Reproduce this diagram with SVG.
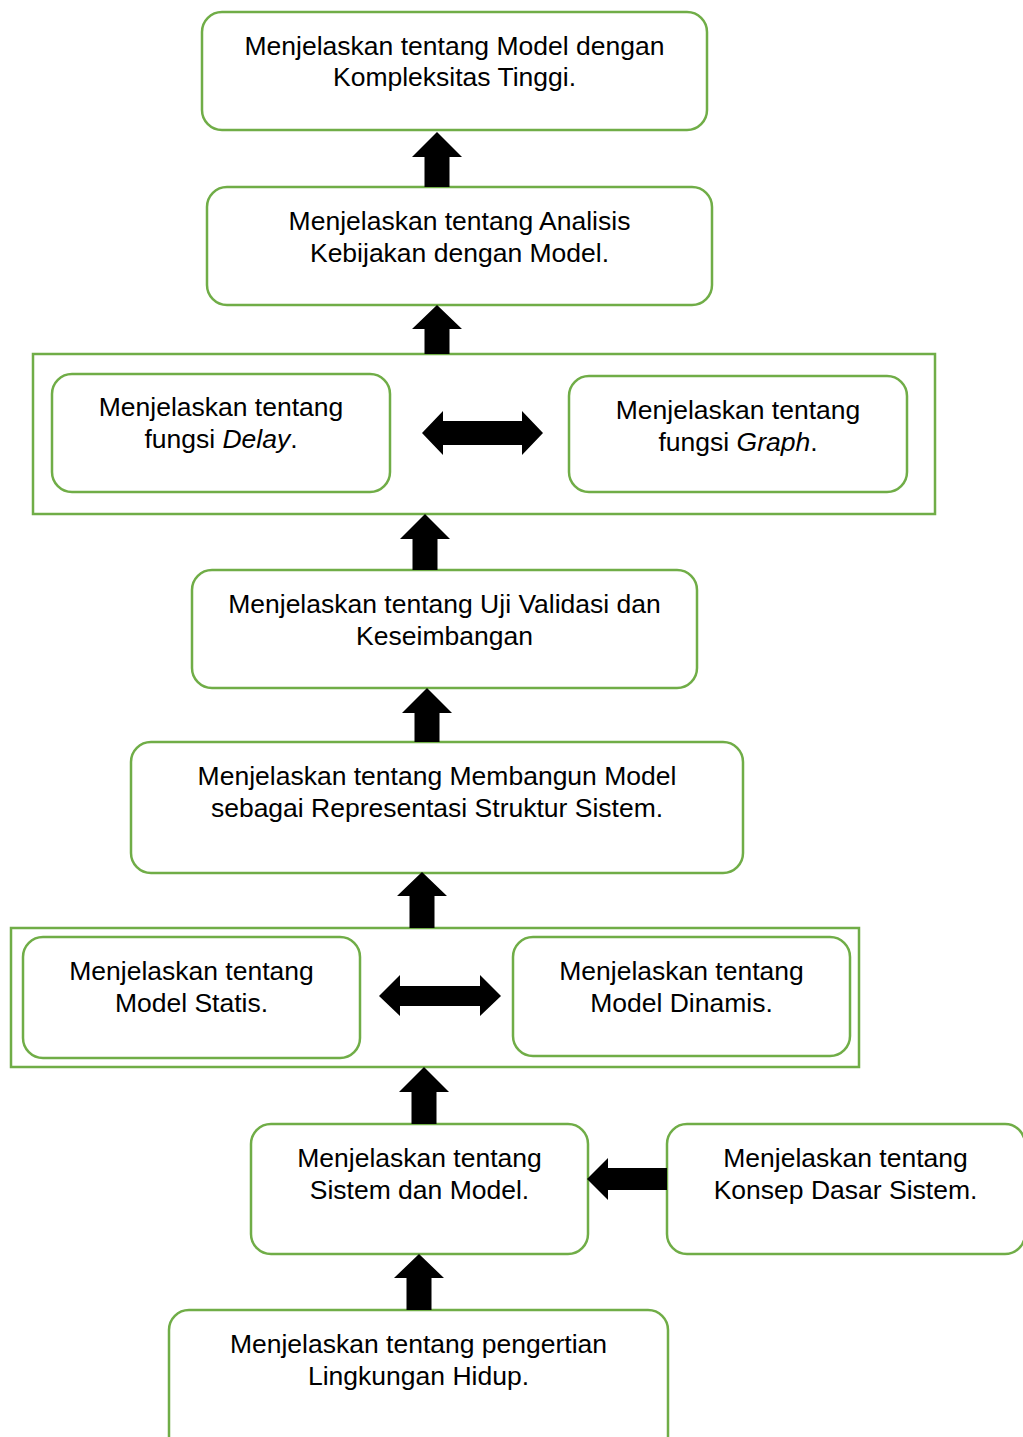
<svg xmlns="http://www.w3.org/2000/svg" width="1023" height="1437" viewBox="0 0 1023 1437">
<style>
.box{fill:#fff;stroke:#70AD47;stroke-width:2.5}
.frame{fill:none;stroke:#70AD47;stroke-width:2.5}
.arr{fill:#000;stroke:none}
text{font-family:"Liberation Sans",Arial,sans-serif;font-size:26.5px;fill:#000;text-anchor:middle}
.it{font-style:italic}
</style>
<rect width="1023" height="1437" fill="#fff"/>
<g id="containers">
<rect id="group-fungsi" class="frame" x="33" y="354" width="902" height="160"/>
<rect id="group-model" class="frame" x="11" y="928" width="848" height="139"/>
</g>
<g id="n1"><rect class="box" x="202" y="12" width="505" height="118" rx="20"/>
<text x="454.5" y="55">Menjelaskan tentang Model dengan</text><text x="454.5" y="86">Kompleksitas Tinggi.</text></g>
<g id="n2"><rect class="box" x="207" y="187" width="505" height="118" rx="20"/>
<text x="459.5" y="230">Menjelaskan tentang Analisis</text><text x="459.5" y="262">Kebijakan dengan Model.</text></g>
<g id="n3"><rect class="box" x="52" y="374" width="338" height="118" rx="20"/>
<text x="221" y="416">Menjelaskan tentang</text><text x="221" y="448">fungsi <tspan class="it">Delay</tspan>.</text></g>
<g id="n4"><rect class="box" x="569" y="376" width="338" height="116" rx="20"/>
<text x="738" y="419">Menjelaskan tentang</text><text x="738" y="451">fungsi <tspan class="it">Graph</tspan>.</text></g>
<g id="n5"><rect class="box" x="192" y="570" width="505" height="118" rx="20"/>
<text x="444.5" y="613">Menjelaskan tentang Uji Validasi dan</text><text x="444.5" y="645">Keseimbangan</text></g>
<g id="n6"><rect class="box" x="131" y="742" width="612" height="131" rx="20"/>
<text x="437" y="785">Menjelaskan tentang Membangun Model</text><text x="437" y="817">sebagai Representasi Struktur Sistem.</text></g>
<g id="n7"><rect class="box" x="23" y="937" width="337" height="121" rx="20"/>
<text x="191.5" y="980">Menjelaskan tentang</text><text x="191.5" y="1012">Model Statis.</text></g>
<g id="n8"><rect class="box" x="513" y="937" width="337" height="119" rx="20"/>
<text x="681.5" y="980">Menjelaskan tentang</text><text x="681.5" y="1012">Model Dinamis.</text></g>
<g id="n9"><rect class="box" x="251" y="1124" width="337" height="130" rx="20"/>
<text x="419.5" y="1167">Menjelaskan tentang</text><text x="419.5" y="1199">Sistem dan Model.</text></g>
<g id="n10"><rect class="box" x="667" y="1124" width="358" height="130" rx="20"/>
<text x="845.5" y="1167">Menjelaskan tentang</text><text x="845.5" y="1199">Konsep Dasar Sistem.</text></g>
<g id="n11"><rect class="box" x="169" y="1310" width="499" height="150" rx="20"/>
<text x="418.5" y="1353">Menjelaskan tentang pengertian</text><text x="418.5" y="1385">Lingkungan Hidup.</text></g>
<g id="connectors">
<path class="arr" d="M437,132 L462,157 L449.5,157 L449.5,187 L424.5,187 L424.5,157 L412,157 Z"/>
<path class="arr" d="M437,305 L462,329 L449.5,329 L449.5,354 L424.5,354 L424.5,329 L412,329 Z"/>
<path class="arr" d="M422,433 L443,411 L443,421 L522,421 L522,411 L543,433 L522,455 L522,445 L443,445 L443,455 Z"/>
<path class="arr" d="M425,514 L450,539 L437.5,539 L437.5,570 L412.5,570 L412.5,539 L400,539 Z"/>
<path class="arr" d="M427,688 L452,713 L439.5,713 L439.5,742 L414.5,742 L414.5,713 L402,713 Z"/>
<path class="arr" d="M422,872 L447,896 L434.5,896 L434.5,928 L409.5,928 L409.5,896 L397,896 Z"/>
<path class="arr" d="M379,996 L400,975 L400,986 L480,986 L480,975 L501,996 L480,1016 L480,1006 L400,1006 L400,1016 Z"/>
<path class="arr" d="M424,1067 L449,1092 L436.5,1092 L436.5,1124 L411.5,1124 L411.5,1092 L399,1092 Z"/>
<path class="arr" d="M587,1179 L608,1158 L608,1168 L667,1168 L667,1190 L608,1190 L608,1200 Z"/>
<path class="arr" d="M419,1254 L444,1278 L431.5,1278 L431.5,1310 L406.5,1310 L406.5,1278 L394,1278 Z"/>
</g>
</svg>
